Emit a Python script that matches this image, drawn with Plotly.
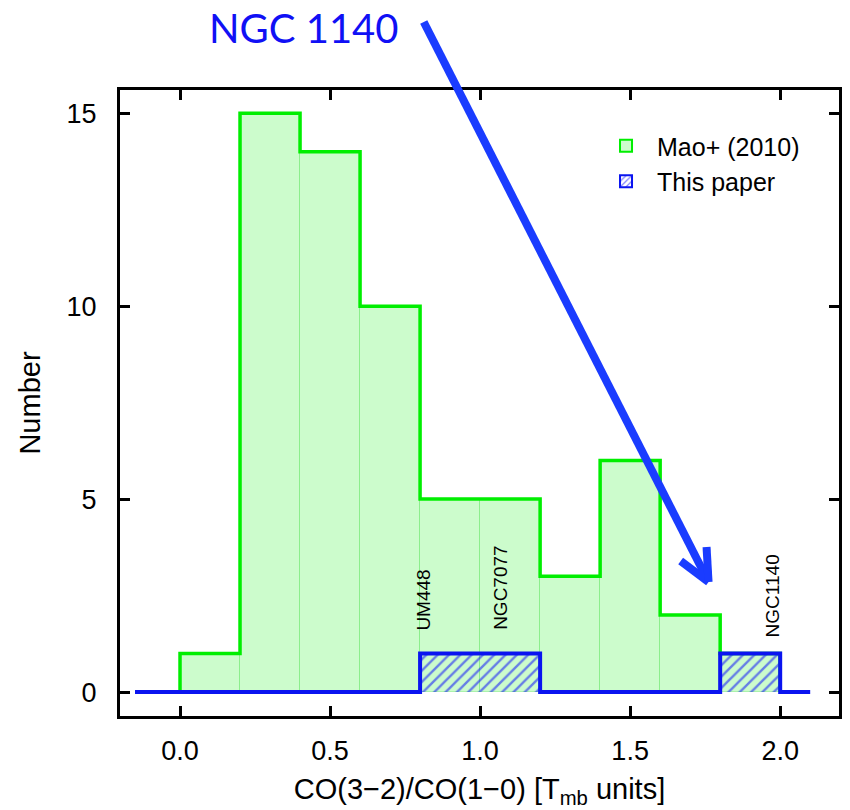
import plotly.graph_objects as go

# ---- data ----
bin_edges = [0.0, 0.2, 0.4, 0.6, 0.8, 1.0, 1.2, 1.4, 1.6, 1.8, 2.0]
mao_counts = [1, 15, 14, 10, 5, 5, 3, 6, 2, 1]
this_counts = [0, 0, 0, 0, 1, 1, 0, 0, 0, 1]
label_names = ["UM448", "NGC7077", "NGC1140"]
label_x = [0.81, 1.07, 1.975]
label_y = [1.53, 1.55, 1.37]
x_ticks = [0.0, 0.5, 1.0, 1.5, 2.0]
y_ticks = [0, 5, 10, 15]

centers = [(a + b) / 2 for a, b in zip(bin_edges[:-1], bin_edges[1:])]
width = bin_edges[1] - bin_edges[0]

def step(edges, counts, pad_l, pad_r):
    xs = [pad_l] + edges[:-1] + [edges[-1], pad_r]
    ys = [0] + counts + [0, 0]
    return xs, ys

GREEN = "#00ee00"
LIGHT = "rgb(204,252,204)"
BLUE = "#0a14f0"
ARROW = "#1a3cff"
FONT = "Liberation Sans"

fig = go.Figure()
# Mao fill bars
fig.add_trace(go.Bar(x=centers, y=mao_counts, width=width,
                     marker=dict(color=LIGHT, line=dict(color="rgba(0,210,0,0.25)", width=1)),
                     showlegend=False, hoverinfo="skip"))
gx, gy = step(bin_edges, mao_counts, bin_edges[0], bin_edges[-1])
fig.add_trace(go.Scatter(x=gx, y=gy, mode="lines", line=dict(color=GREEN, width=3.5, shape="hv"),
                         showlegend=False, hoverinfo="skip"))
# This paper hatched bars
fig.add_trace(go.Bar(x=centers, y=this_counts, width=width,
                     marker=dict(color="rgba(0,0,0,0)",
                                 pattern=dict(shape="/", fgcolor="#0000ff", bgcolor="rgba(0,0,0,0)",
                                              size=8, solidity=0.3),
                                 line=dict(color=BLUE, width=0)),
                     showlegend=False, hoverinfo="skip"))
bx, by = step(bin_edges, this_counts, -0.15, 2.1)
fig.add_trace(go.Scatter(x=bx, y=by, mode="lines", line=dict(color=BLUE, width=4, shape="hv"),
                         showlegend=False, hoverinfo="skip"))
# legend entries
fig.add_trace(go.Bar(x=[None], y=[None], name="Mao+ (2010)",
                     marker=dict(color=LIGHT, line=dict(color=GREEN, width=2))))
fig.add_trace(go.Bar(x=[None], y=[None], name="This paper",
                     marker=dict(color="white",
                                 pattern=dict(shape="/", fgcolor="#0000ff", bgcolor="white", size=5, solidity=0.3),
                                 line=dict(color=BLUE, width=2))))

for name, lx, ly in zip(label_names, label_x, label_y):
    fig.add_annotation(x=lx, y=ly, text=name, textangle=-90, showarrow=False,
                       xanchor="center", yanchor="bottom",
                       font=dict(family=FONT, size=19, color="black"))

# NGC 1140 callout (paper coords)
def px(x):
    return (x - 120) / 722
def py(y):
    return (716 - y) / 626

fig.add_annotation(xref="paper", yref="paper", x=px(305), y=py(28), text="NGC 1140",
                   showarrow=False, xanchor="center", yanchor="middle",
                   font=dict(family="Lato", size=40, color="#1010f5"))
for (x0, y0, x1, y1) in [(425, 22, 709, 578), (683, 561, 711, 582), (709, 547, 711, 582)]:
    fig.add_shape(type="line", xref="paper", yref="paper", x0=px(x0), y0=py(y0), x1=px(x1), y1=py(y1),
                  line=dict(color=ARROW, width=8))

fig.update_layout(
    width=850, height=810,
    margin=dict(l=120, r=8, t=90, b=94),
    paper_bgcolor="white", plot_bgcolor="white",
    barmode="overlay", bargap=0,
    font=dict(family=FONT, size=27, color="black"),
    legend=dict(x=px(597), y=py(123), xanchor="left", yanchor="top",
                bgcolor="rgba(0,0,0,0)", font=dict(size=25), tracegroupgap=0, itemwidth=52),
    xaxis=dict(range=[-0.2, 2.196], tickvals=x_ticks, tickformat=".1f",
               showline=True, linewidth=3, linecolor="black", mirror="ticks",
               ticks="inside", ticklen=10, tickwidth=2.5, tickcolor="black",
               showgrid=False, zeroline=False, ticklabelstandoff=9,
               tickfont=dict(size=27),
               title=dict(text="CO(3\u22122)/CO(1\u22120) [T<sub>mb</sub> units]", standoff=14,
                          font=dict(size=29))),
    yaxis=dict(range=[-0.62, 15.6], tickvals=y_ticks,
               showline=True, linewidth=3, linecolor="black", mirror="ticks",
               ticks="inside", ticklen=10, tickwidth=2.5, tickcolor="black",
               showgrid=False, zeroline=False, ticklabelstandoff=15,
               tickfont=dict(size=27),
               title=dict(text="Number", standoff=18, font=dict(size=29))),
)

fig.write_html("out.html")
